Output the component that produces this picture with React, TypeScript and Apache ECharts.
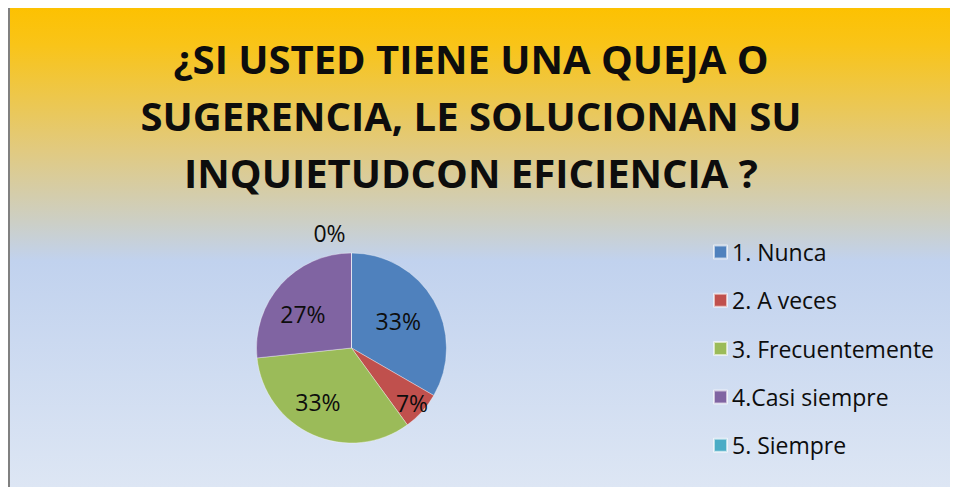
import React, { useEffect, useRef } from "react";
import * as echarts from "echarts";

const titleLines = [
  "¿SI USTED TIENE UNA QUEJA O",
  "SUGERENCIA, LE SOLUCIONAN SU",
  "INQUIETUDCON EFICIENCIA ?",
];
const categories = ["1. Nunca", "2. A veces", "3. Frecuentemente", "4.Casi siempre", "5. Siempre"];
const counts = [5, 1, 5, 4, 0];
const colors = ["#4F81BD", "#C0504D", "#9BBB59", "#8064A2", "#4BACC6"];
// label nudges (style only)
const labelNudges = [
  [3, -2],
  [23, 21],
  [-13, 8],
  [-11, 0],
  [-22, -65],
];

export default function App() {
  const ref = useRef<HTMLDivElement>(null);
  useEffect(() => {
    if (!ref.current) return;
    const chart = echarts.init(ref.current, undefined, { renderer: "svg" });
    const total = counts.reduce((a, b) => a + b, 0);
    chart.setOption({
      animation: false,
      backgroundColor: {
        type: "linear",
        x: 0,
        y: 0,
        x2: 0,
        y2: 1,
        colorStops: [
          { offset: 0, color: "#fdc100" },
          { offset: 0.08, color: "#f9c418" },
          { offset: 0.3, color: "#e1ca80" },
          { offset: 0.45, color: "#cccfc6" },
          { offset: 0.53, color: "#c1d2ee" },
          { offset: 1, color: "#dde6f4" },
        ],
      },
      title: {
        text: titleLines.join("\n"),
        left: 461,
        top: 24,
        textAlign: "center",
        padding: 0,
        textStyle: {
          fontFamily: "Open Sans",
          fontWeight: "bold",
          fontSize: 40,
          lineHeight: 57,
          color: "#0d0d0d",
        },
      },
      legend: {
        orient: "vertical",
        left: 698,
        top: 229,
        itemWidth: 13,
        itemHeight: 13,
        itemGap: 24.3,
        icon: "rect",
        data: categories,
        textStyle: {
          fontFamily: "Open Sans",
          fontSize: 23,
          lineHeight: 24,
          color: "#0d0d0d",
        },
      },
      series: [
        {
          type: "pie",
          center: [341.5, 342],
          radius: 95,
          startAngle: 90,
          clockwise: true,
          data: categories.map((name, i) => ({
            name,
            value: counts[i],
            itemStyle: { color: colors[i] },
          })),
          itemStyle: { borderColor: "rgba(255,255,255,0.6)", borderWidth: 0.6 },
          label: {
            show: true,
            position: "inside",
            formatter: (p: any) => Math.round((p.value / total) * 100) + "%",
            fontFamily: "Open Sans",
            fontSize: 23,
            color: "#0d0d0d",
          },
          labelLine: { show: false },
          labelLayout: (p: any) => ({
            dx: labelNudges[p.dataIndex][0],
            dy: labelNudges[p.dataIndex][1],
          }),
          emphasis: { disabled: true },
        },
      ],
    });
    return () => chart.dispose();
  }, []);
  return (
    <div style={{ marginTop: -2, borderLeft: "2px solid #808080", width: 948 }}>
      <div ref={ref} style={{ width: 948, height: 481 }} />
    </div>
  );
}
